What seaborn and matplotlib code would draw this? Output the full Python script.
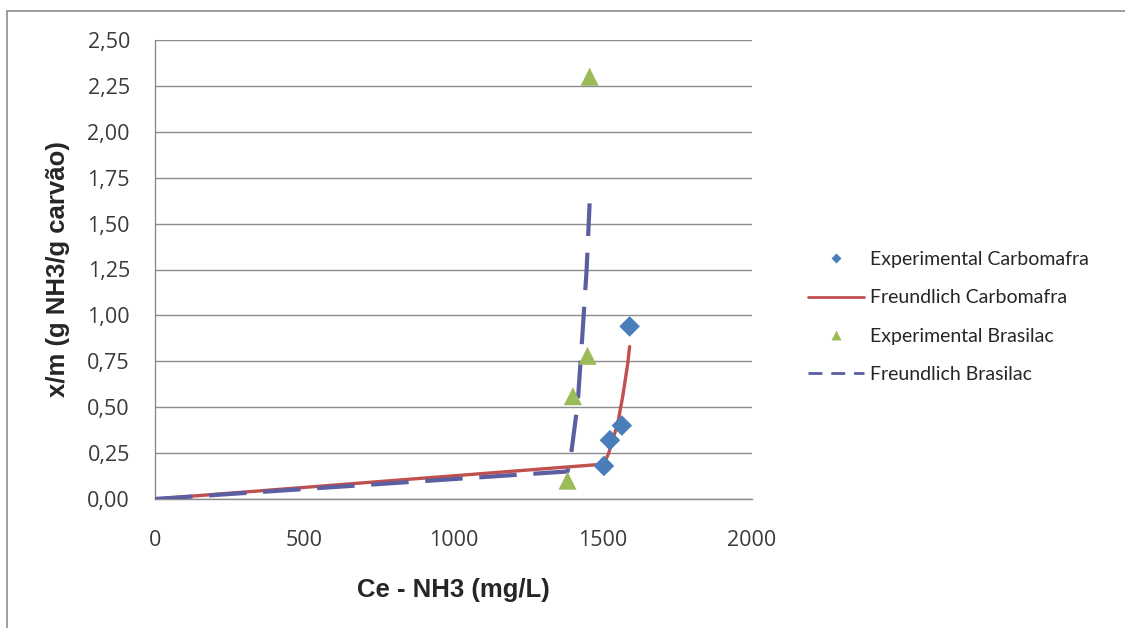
import numpy as np
import pandas as pd
import matplotlib
matplotlib.use("Agg")
import matplotlib.pyplot as plt
from matplotlib.lines import Line2D
from matplotlib.patches import Rectangle
import seaborn as sns

# data
carbo_ce = [1504, 1524, 1564, 1590]
carbo_xm = [0.18, 0.32, 0.40, 0.94]
carbo_fit_ce = [0, 1504, 1520, 1550, 1567, 1584, 1590]
carbo_fit_xm = [0.00, 0.19, 0.25, 0.41, 0.56, 0.74, 0.83]

bras_ce = [1382, 1400, 1449, 1456]
bras_xm = [0.10, 0.56, 0.78, 2.30]
bras_fit_ce = [0, 1382, 1392, 1416, 1432, 1446, 1456]
bras_fit_xm = [0.00, 0.15, 0.22, 0.52, 0.90, 1.25, 1.61]

x_ticks = [0, 500, 1000, 1500, 2000]
y_ticks = [0.0, 0.25, 0.5, 0.75, 1.0, 1.25, 1.5, 1.75, 2.0, 2.25, 2.5]

blue = "#4A7EBB"
red = "#C0504D"
green = "#9BBB59"
purple = "#5B5FA2"

sns.set_style("white")
plt.rcParams['font.family'] = ['Open Sans', 'DejaVu Sans']

fig = plt.figure(figsize=(11.25, 6.28), dpi=100)
ax = fig.add_axes([155 / 1125, 1 - 499 / 628, 597 / 1125, 459 / 628])

df_cf = pd.DataFrame({"ce": carbo_fit_ce, "xm": carbo_fit_xm})
df_bf = pd.DataFrame({"ce": bras_fit_ce, "xm": bras_fit_xm})
df_ce = pd.DataFrame({"ce": carbo_ce, "xm": carbo_xm})
df_be = pd.DataFrame({"ce": bras_ce, "xm": bras_xm})

sns.lineplot(data=df_cf, x="ce", y="xm", ax=ax, color=red, lw=2.4,
             sort=False, zorder=3)
sns.lineplot(data=df_bf, x="ce", y="xm", ax=ax, color=purple, lw=3.0,
             sort=False, zorder=3, dashes=False)
ax.lines[-1].set_dashes((9, 4))
sns.scatterplot(data=df_ce, x="ce", y="xm", ax=ax, marker="D", s=110,
                color=blue, edgecolor="none", zorder=4)
sns.scatterplot(data=df_be, x="ce", y="xm", ax=ax, marker="^", s=170,
                color=green, edgecolor="none", zorder=4)

ax.set_xlim(0, 2000)
ax.set_ylim(0, 2.5)
ax.set_xticks(x_ticks)
ax.set_yticks(y_ticks)
ax.set_xticklabels([str(v) for v in x_ticks])
ax.set_yticklabels([f"{v:.2f}".replace(".", ",") for v in y_ticks])
ax.tick_params(axis="both", length=0, labelsize=15.5, colors="#3A3A3A")
ax.tick_params(axis="y", pad=18)
ax.tick_params(axis="x", pad=22)

ax.grid(axis="y", color="#8C8C8C", lw=1.0)
ax.set_axisbelow(True)
for s in ["top", "right"]:
    ax.spines[s].set_visible(False)
for s in ["left", "bottom"]:
    ax.spines[s].set_color("#8C8C8C")
    ax.spines[s].set_linewidth(1.0)

ax.set_xlabel("Ce - NH3 (mg/L)", fontsize=18.5, fontweight="bold",
              family=["Liberation Sans", "DejaVu Sans"])
ax.set_ylabel("x/m (g NH3/g carvão)", fontsize=18.5, fontweight="bold",
              family=["Liberation Sans", "DejaVu Sans"])
ax.xaxis.set_label_coords(0.5, -0.172)
ax.yaxis.set_label_coords(-0.142, 0.5)

handles = [
    Line2D([], [], ls="none", marker="D", ms=5, color=blue, mec="none"),
    Line2D([], [], color=red, lw=2),
    Line2D([], [], ls="none", marker="^", ms=7, color=green, mec="none"),
    Line2D([], [], color=purple, lw=2, dashes=(5, 3.2)),
]
labels = ["Experimental Carbomafra", "Freundlich Carbomafra",
          "Experimental Brasilac", "Freundlich Brasilac"]
fig.legend(handles, labels, loc="center left",
           bbox_to_anchor=(790 / 1125, 1 - 317 / 628), frameon=False,
           prop={"family": ["Lato", "DejaVu Sans"], "size": 14},
           handlelength=2.9, labelspacing=1.1, handletextpad=0.3)

# outer chart frame
fig.patches.append(Rectangle((7 / 1125, -0.1), 1.2, 1 - 11 / 628 + 0.1,
                             transform=fig.transFigure, fill=False,
                             ec="#8C8C8C", lw=1.2))

fig.savefig("out.png", dpi=100)
